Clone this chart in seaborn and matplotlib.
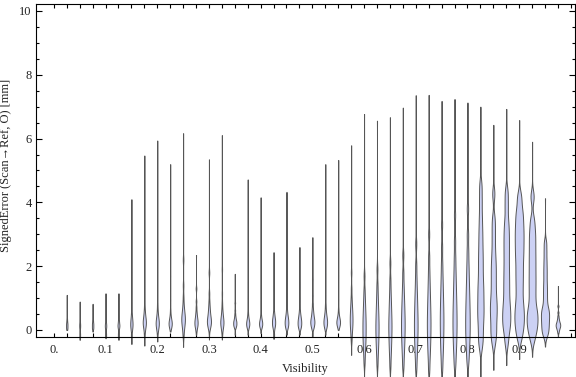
import numpy as np
import pandas as pd
import matplotlib.pyplot as plt
import seaborn as sns

# visibility bins (violin centres)
visibility = [0.025, 0.05, 0.075, 0.1, 0.125, 0.15, 0.175, 0.2, 0.225, 0.25,
              0.275, 0.3, 0.325, 0.35, 0.375, 0.4, 0.425, 0.45, 0.475, 0.5,
              0.525, 0.55, 0.575, 0.6, 0.625, 0.65, 0.675, 0.7, 0.725, 0.75,
              0.775, 0.8, 0.825, 0.85, 0.875, 0.9, 0.925, 0.95, 0.975]

# extreme observations per bin (mm)
err_min = [0.0, -0.31, -0.05, -0.26, -0.31, -0.44, -0.49, -0.36, -0.05, -0.53,
           -0.15, -0.3, -0.3, -0.15, -0.15, -0.1, -0.28, -0.15, -0.15, -0.2,
           -0.15, 0.0, -0.78, -1.9, -2.0, -2.1, -2.0, -2.1, -2.2, -2.1,
           -1.9, -1.7, -1.46, -1.25, -1.1, -0.91, -0.84, -0.52, -0.2]
err_max = [1.10, 0.89, 0.82, 1.15, 1.15, 4.10, 5.47, 5.94, 5.20, 6.17,
           2.35, 5.35, 6.11, 1.76, 4.72, 4.16, 2.44, 4.33, 2.60, 2.91,
           5.20, 5.33, 5.79, 6.77, 6.56, 6.67, 6.97, 7.36, 7.37, 7.18,
           7.24, 7.13, 7.00, 6.43, 6.93, 6.58, 5.90, 4.13, 1.38]

# 5%..95% quantiles of the signed error in each bin (mm)
err_body = [
    [0.0, 0.03, 0.05, 0.07, 0.09, 0.11, 0.13, 0.15, 0.17, 0.19, 0.21, 0.23, 0.26, 0.29, 0.33, 0.38, 0.45, 0.55, 0.75],
    [-0.12, -0.04, 0.01, 0.04, 0.07, 0.09, 0.11, 0.13, 0.15, 0.17, 0.19, 0.21, 0.24, 0.27, 0.31, 0.36, 0.43, 0.52, 0.68],
    [0.0, 0.03, 0.05, 0.07, 0.09, 0.11, 0.13, 0.15, 0.17, 0.19, 0.21, 0.23, 0.26, 0.29, 0.32, 0.36, 0.42, 0.5, 0.62],
    [-0.08, -0.01, 0.03, 0.06, 0.08, 0.1, 0.12, 0.14, 0.16, 0.18, 0.2, 0.23, 0.26, 0.3, 0.34, 0.4, 0.48, 0.6, 0.8],
    [-0.1, -0.02, 0.03, 0.06, 0.09, 0.11, 0.13, 0.15, 0.17, 0.19, 0.22, 0.25, 0.28, 0.32, 0.37, 0.43, 0.52, 0.65, 0.85],
    [-0.12, -0.02, 0.04, 0.08, 0.11, 0.14, 0.17, 0.2, 0.23, 0.26, 0.3, 0.34, 0.39, 0.45, 0.53, 0.65, 0.85, 1.2, 1.9],
    [-0.15, -0.02, 0.06, 0.11, 0.15, 0.18, 0.21, 0.24, 0.27, 0.3, 0.34, 0.38, 0.43, 0.5, 0.58, 0.7, 0.9, 1.3, 2.2],
    [-0.1, 0.0, 0.06, 0.1, 0.13, 0.16, 0.19, 0.22, 0.25, 0.28, 0.31, 0.35, 0.4, 0.46, 0.54, 0.66, 0.85, 1.2, 2.0],
    [0.03, 0.07, 0.1, 0.13, 0.15, 0.17, 0.19, 0.21, 0.23, 0.25, 0.27, 0.3, 0.33, 0.37, 0.42, 0.5, 0.65, 0.95, 1.7],
    [-0.2, -0.05, 0.05, 0.12, 0.18, 0.23, 0.28, 0.32, 0.36, 0.4, 0.45, 0.5, 0.56, 0.63, 0.72, 0.85, 1.05, 1.4, 2.2],
    [-0.05, 0.03, 0.08, 0.12, 0.15, 0.18, 0.21, 0.24, 0.27, 0.3, 0.33, 0.37, 0.41, 0.46, 0.52, 0.6, 0.72, 0.9, 1.3],
    [0.0, 0.08, 0.13, 0.17, 0.21, 0.24, 0.27, 0.3, 0.34, 0.38, 0.42, 0.47, 0.53, 0.6, 0.68, 0.78, 0.92, 1.15, 1.8],
    [-0.08, 0.02, 0.08, 0.12, 0.16, 0.19, 0.22, 0.25, 0.28, 0.31, 0.35, 0.39, 0.44, 0.5, 0.58, 0.68, 0.85, 1.15, 1.9],
    [0.05, 0.09, 0.12, 0.14, 0.16, 0.18, 0.2, 0.22, 0.24, 0.26, 0.28, 0.3, 0.33, 0.36, 0.4, 0.45, 0.52, 0.62, 0.85],
    [0.04, 0.08, 0.11, 0.13, 0.15, 0.17, 0.19, 0.21, 0.23, 0.25, 0.27, 0.3, 0.33, 0.37, 0.42, 0.5, 0.62, 0.85, 1.4],
    [0.05, 0.09, 0.11, 0.13, 0.15, 0.17, 0.19, 0.21, 0.23, 0.25, 0.27, 0.29, 0.32, 0.36, 0.41, 0.48, 0.6, 0.82, 1.3],
    [-0.08, 0.02, 0.08, 0.12, 0.15, 0.18, 0.21, 0.24, 0.27, 0.3, 0.33, 0.36, 0.4, 0.45, 0.5, 0.58, 0.7, 0.9, 1.3],
    [0.02, 0.07, 0.11, 0.14, 0.17, 0.2, 0.23, 0.26, 0.29, 0.32, 0.35, 0.39, 0.43, 0.48, 0.55, 0.64, 0.78, 1.0, 1.6],
    [0.0, 0.06, 0.1, 0.13, 0.16, 0.19, 0.22, 0.25, 0.28, 0.31, 0.34, 0.38, 0.42, 0.47, 0.53, 0.62, 0.75, 0.95, 1.4],
    [0.02, 0.08, 0.12, 0.16, 0.19, 0.22, 0.25, 0.28, 0.31, 0.34, 0.38, 0.42, 0.47, 0.53, 0.6, 0.7, 0.84, 1.08, 1.6],
    [0.03, 0.08, 0.12, 0.15, 0.18, 0.21, 0.24, 0.27, 0.3, 0.33, 0.36, 0.4, 0.44, 0.5, 0.57, 0.67, 0.82, 1.1, 1.8],
    [0.07, 0.11, 0.14, 0.17, 0.19, 0.21, 0.23, 0.25, 0.27, 0.29, 0.31, 0.34, 0.37, 0.41, 0.46, 0.54, 0.68, 0.95, 1.7],
    [-0.35, -0.18, -0.06, 0.03, 0.1, 0.17, 0.23, 0.29, 0.35, 0.41, 0.47, 0.54, 0.61, 0.69, 0.78, 0.9, 1.05, 1.3, 1.8],
    [-1.05, -0.8, -0.62, -0.48, -0.36, -0.25, -0.15, -0.05, 0.05, 0.15, 0.25, 0.35, 0.46, 0.58, 0.71, 0.86, 1.04, 1.28, 1.7],
    [-1.1, -0.83, -0.64, -0.49, -0.36, -0.24, -0.13, -0.02, 0.08, 0.18, 0.29, 0.4, 0.52, 0.65, 0.8, 0.97, 1.18, 1.45, 1.9],
    [-1.15, -0.86, -0.66, -0.5, -0.36, -0.23, -0.11, 0.0, 0.11, 0.22, 0.33, 0.45, 0.58, 0.72, 0.88, 1.06, 1.3, 1.6, 2.1],
    [-1.15, -0.86, -0.65, -0.48, -0.33, -0.2, -0.07, 0.05, 0.17, 0.29, 0.41, 0.54, 0.68, 0.83, 1.0, 1.2, 1.45, 1.8, 2.35],
    [-1.2, -0.88, -0.66, -0.48, -0.32, -0.18, -0.04, 0.09, 0.22, 0.35, 0.49, 0.63, 0.79, 0.96, 1.15, 1.38, 1.67, 2.05, 2.7],
    [-1.25, -0.9, -0.67, -0.48, -0.31, -0.16, -0.01, 0.13, 0.27, 0.41, 0.56, 0.72, 0.89, 1.08, 1.3, 1.55, 1.87, 2.3, 3.0],
    [-1.2, -0.86, -0.62, -0.43, -0.25, -0.09, 0.07, 0.22, 0.37, 0.52, 0.68, 0.85, 1.03, 1.24, 1.47, 1.75, 2.1, 2.6, 3.3],
    [-1.1, -0.78, -0.55, -0.36, -0.18, -0.02, 0.14, 0.29, 0.45, 0.61, 0.78, 0.96, 1.16, 1.38, 1.63, 1.93, 2.3, 2.8, 3.6],
    [-1.0, -0.7, -0.48, -0.29, -0.12, 0.04, 0.2, 0.36, 0.52, 0.69, 0.87, 1.06, 1.27, 1.5, 1.77, 2.08, 2.48, 3.0, 3.8],
    [-0.49, -0.24, 0.02, 0.27, 0.47, 0.66, 0.86, 1.07, 1.28, 1.49, 1.75, 2.02, 2.28, 2.56, 2.87, 3.19, 3.57, 4.03, 4.5],
    [-0.42, -0.16, -0.02, 0.21, 0.39, 0.56, 0.72, 0.88, 1.06, 1.29, 1.51, 1.74, 1.96, 2.19, 2.47, 2.81, 3.15, 3.49, 4.27],
    [-0.38, -0.03, 0.15, 0.32, 0.49, 0.66, 0.85, 1.09, 1.33, 1.57, 1.82, 2.08, 2.35, 2.61, 2.87, 3.13, 3.43, 3.87, 4.3],
    [-0.21, 0.06, 0.26, 0.45, 0.65, 0.87, 1.15, 1.42, 1.68, 1.93, 2.19, 2.42, 2.64, 2.86, 3.07, 3.29, 3.53, 3.78, 4.17],
    [-0.27, -0.03, 0.12, 0.26, 0.41, 0.55, 0.7, 0.95, 1.19, 1.43, 1.66, 1.9, 2.14, 2.38, 2.63, 2.88, 3.13, 3.45, 4.18],
    [-0.17, -0.06, 0.05, 0.15, 0.25, 0.35, 0.44, 0.53, 0.62, 0.72, 0.91, 1.1, 1.29, 1.49, 1.72, 1.94, 2.18, 2.45, 2.73],
    [-0.08, -0.02, 0.02, 0.05, 0.08, 0.1, 0.12, 0.14, 0.16, 0.18, 0.2, 0.22, 0.25, 0.28, 0.32, 0.37, 0.44, 0.55, 0.75],
]

# how many times each quantile set is observed (sample size per bin)
n_repeat = [3, 2, 3, 3, 4, 5, 7, 7, 7, 8,
            7, 9, 7, 7, 7, 7, 7, 8, 8, 9,
            8, 8, 6, 7, 7, 7, 8, 8, 8, 8,
            9, 10, 14, 15, 18, 21, 24, 18, 10]

frames = []
for v, lo, hi, body, k in zip(visibility, err_min, err_max, err_body, n_repeat):
    vals = [lo] + list(body) * k + [hi]
    frames.append(pd.DataFrame({'Visibility': v, 'SignedError': vals}))
df = pd.concat(frames, ignore_index=True)

sns.set_style('ticks')
plt.rcParams['font.family'] = ['Liberation Serif', 'DejaVu Serif']

fig = plt.figure(figsize=(5.76, 3.77), dpi=100)
ax = fig.add_axes([36 / 576, 1 - 337 / 377, 539 / 576, 332.7 / 377])

sns.violinplot(data=df, x='Visibility', y='SignedError', orient='x',
               native_scale=True, density_norm='count', cut=0, inner=None,
               bw_method=0.16, width=0.84, color='#ccd1f4', linecolor='#555555',
               linewidth=0.7, saturation=1, ax=ax)
for c in ax.collections:
    c.set_clip_on(False)

ax.set_xlim(-0.0345, 1.008)
ax.set_ylim(-0.22, 10.21)

major_x = [0.0, 0.1, 0.2, 0.3, 0.4, 0.5, 0.6, 0.7, 0.8, 0.9]
ax.set_xticks(major_x)
ax.set_xticklabels(['0.', '0.1', '0.2', '0.3', '0.4', '0.5', '0.6', '0.7', '0.8', '0.9'])
ax.set_xticks(np.arange(0, 1.001, 0.025), minor=True)
ax.set_yticks([0, 2, 4, 6, 8, 10])
ax.set_yticks(np.arange(0, 10.01, 0.5), minor=True)

ax.tick_params(which='both', direction='in', top=True, right=True,
               color='black', width=0.8, labelsize=9, labelcolor='#222222')
ax.tick_params(axis='x', which='both', length=3.2, pad=5)
ax.tick_params(axis='y', which='major', length=4.5, pad=3)
ax.tick_params(axis='y', which='minor', length=2.5)
for s in ax.spines.values():
    s.set_color('black')
    s.set_linewidth(0.8)

ax.set_xlabel('Visibility', fontsize=9, color='#222222')
ax.set_ylabel('SignedError (Scan\u2192Ref, O) [mm]', fontsize=9, color='#222222')
ax.xaxis.set_label_coords(0.5, -0.078)
ax.yaxis.set_label_coords(-0.044, 0.516)

fig.savefig('out.png', dpi=100)
